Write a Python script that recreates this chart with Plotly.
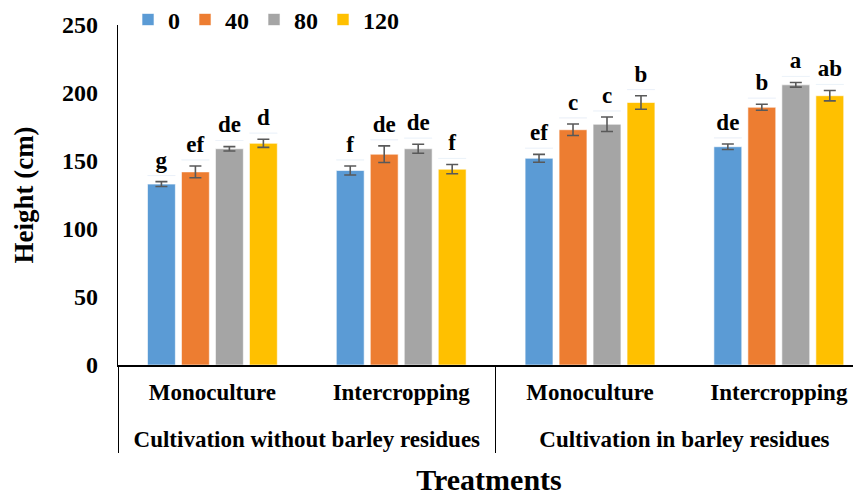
import plotly.graph_objects as go

# ---- data ----
outer = ["Cultivation without barley residues", "Cultivation without barley residues",
         "Cultivation in barley residues", "Cultivation in barley residues"]
inner = ["Monoculture", "Intercropping", "Monoculture", "Intercropping"]

series_names = ["0", "40", "80", "120"]
h0 = [133, 143, 152, 160.5]
h40 = [142, 155, 173, 189.5]
h80 = [159, 159, 177, 206]
h120 = [163, 144, 193, 198]

e0 = [1.8, 3.3, 2.9, 2.0]
e40 = [4.3, 6.1, 4.2, 2.2]
e80 = [1.6, 3.3, 5.3, 1.7]
e120 = [3.0, 3.4, 5.0, 3.8]

l0 = ["g", "f", "ef", "de"]
l40 = ["ef", "de", "c", "b"]
l80 = ["de", "de", "c", "a"]
l120 = ["d", "f", "b", "ab"]

y_ticks = [0, 50, 100, 150, 200, 250]

colors = ["#5B9BD5", "#ED7D31", "#A5A5A5", "#FFC000"]
FONT = "Liberation Serif"
LABEL_PAD = 4.5
# spacer line under the inner labels pushes the outer label row down
inner_shown = [t + "<br><span style='font-size:4px'> </span>" for t in inner]

values = [h0, h40, h80, h120]
errors = [e0, e40, e80, e120]
letters = [l0, l40, l80, l120]

fig = go.Figure()
for name, v, e, c in zip(series_names, values, errors, colors):
    fig.add_trace(go.Bar(
        x=[outer, inner_shown], y=v, name=name, offsetgroup=name,
        marker=dict(color=c, line=dict(color="rgba(255,255,255,0.6)", width=1)),
        error_y=dict(type="data", array=e, visible=True, color="#595959",
                     thickness=1.6, width=6),
    ))
for name, v, e, lab in zip(series_names, values, errors, letters):
    fig.add_trace(go.Bar(
        x=[outer, inner_shown], y=[0.01] * len(v),
        base=[vi + ei + LABEL_PAD for vi, ei in zip(v, e)],
        offsetgroup=name, showlegend=False, hoverinfo="skip",
        marker=dict(color="rgba(0,0,0,0)"),
        text=lab, textposition="outside", textangle=0, constraintext="none",
        cliponaxis=False,
        outsidetextfont=dict(family=FONT, size=23, color="black", weight="bold"),
    ))

fig.update_layout(
    width=861, height=497,
    margin=dict(l=110, r=9, t=17, b=140, autoexpand=False),
    paper_bgcolor="white", plot_bgcolor="white",
    barmode="group", bargap=0.28, bargroupgap=0.18,
    font=dict(family=FONT, size=24, color="black", weight="bold"),
    legend=dict(orientation="h", x=0.0135, y=1.015, xanchor="left", yanchor="middle",
                font=dict(family=FONT, size=24, color="black", weight="bold"),
                bgcolor="rgba(0,0,0,0)", itemwidth=30, tracegroupgap=0),
    xaxis=dict(
        type="multicategory", range=[-0.5, 3.43],
        showline=True, linecolor="black", linewidth=1.5,
        ticks="", showdividers=True, dividercolor="black", dividerwidth=1,
        tickfont=dict(family=FONT, size=23, color="black", weight="bold"),
        ticklabelstandoff=6,
        title=dict(text="Treatments", font=dict(family=FONT, size=30, color="black", weight="bold"),
                   standoff=18),
        showgrid=False,
    ),
    yaxis=dict(
        range=[0, 250], tickvals=y_ticks, ticks="", showgrid=False, zeroline=False,
        showline=True, linecolor="black", linewidth=1.2,
        tickfont=dict(family=FONT, size=24, color="black", weight="bold"),
        ticklabelstandoff=14,
        title=dict(text="\u00a0\u00a0Height (cm)",
                   font=dict(family=FONT, size=27, color="black", weight="bold"),
                   standoff=20),
    ),
)

fig.write_html("out.html")
